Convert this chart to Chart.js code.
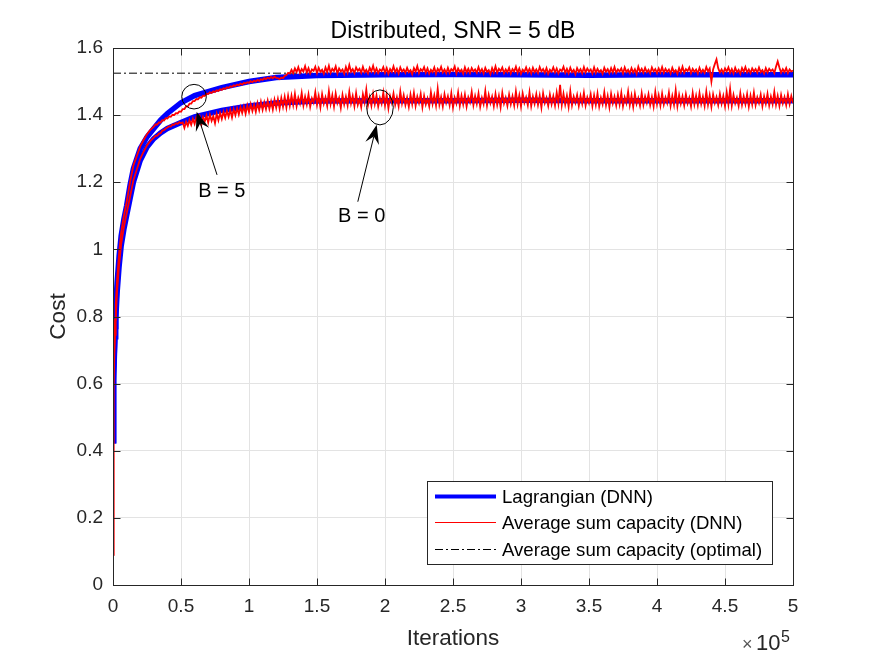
<!DOCTYPE html>
<html>
<head>
<meta charset="utf-8">
<script src="https://cdn.jsdelivr.net/npm/chart.js@4.4.1/dist/chart.umd.min.js"></script>
<style>
  html, body { margin: 0; padding: 0; background: #fff; }
</style>
</head>
<body>
<canvas id="myChart" width="875" height="657"></canvas>
<script>
// axis ticks (iterations in units of 1e5)
const xTicks = [0, 0.5, 1, 1.5, 2, 2.5, 3, 3.5, 4, 4.5, 5];
const yTicks = [0, 0.2, 0.4, 0.6, 0.8, 1, 1.2, 1.4, 1.6];

// Lagrangian (DNN), smooth band
const lagX = [0, 0.003, 0.006, 0.01, 0.015, 0.02, 0.03, 0.045, 0.06, 0.08, 0.1, 0.125, 0.15, 0.2, 0.25, 0.3, 0.35, 0.4, 0.5, 0.6, 0.8, 1.0, 1.2, 1.5, 2, 2.5, 3, 3.5, 4, 4.5, 5];
const lagB5 = [0.43, 0.55, 0.63, 0.70, 0.77, 0.82, 0.90, 0.98, 1.04, 1.09, 1.13, 1.19, 1.24, 1.30, 1.335, 1.36, 1.385, 1.405, 1.437, 1.458, 1.482, 1.50, 1.512, 1.518, 1.52, 1.521, 1.52, 1.519, 1.52, 1.52, 1.52];
const lagB0 = [0.43, 0.54, 0.61, 0.68, 0.74, 0.79, 0.87, 0.95, 1.01, 1.06, 1.10, 1.15, 1.20, 1.265, 1.305, 1.33, 1.347, 1.36, 1.378, 1.395, 1.414, 1.427, 1.436, 1.442, 1.443, 1.443, 1.444, 1.443, 1.443, 1.443, 1.443];

// Average sum capacity (DNN), first 30000 iterations
const capEarlyX = [0, 0.002, 0.005, 0.01, 0.015, 0.02, 0.03, 0.045, 0.06, 0.08, 0.1, 0.125, 0.15, 0.175, 0.2, 0.225, 0.25, 0.275];
const capB5Early = [0.09, 0.40, 0.62, 0.72, 0.79, 0.835, 0.91, 0.99, 1.05, 1.10, 1.14, 1.20, 1.25, 1.278, 1.307, 1.326, 1.343, 1.356];
const capB0Early = [0.09, 0.38, 0.59, 0.69, 0.745, 0.795, 0.875, 0.955, 1.015, 1.066, 1.106, 1.156, 1.206, 1.238, 1.27, 1.291, 1.31, 1.323];

// Average sum capacity (DNN), from 30000 on, every 1250 iterations
const capB5Late = [
  1.366, 1.372, 1.372, 1.378, 1.378, 1.385, 1.384, 1.391, 1.390, 1.396,
  1.395, 1.401, 1.400, 1.406, 1.405, 1.411, 1.410, 1.418, 1.418, 1.426,
  1.426, 1.434, 1.434, 1.442, 1.442, 1.448, 1.447, 1.453, 1.452, 1.458,
  1.457, 1.464, 1.463, 1.468, 1.466, 1.471, 1.469, 1.474, 1.472, 1.477,
  1.475, 1.480, 1.478, 1.483, 1.481, 1.486, 1.484, 1.489, 1.487, 1.491,
  1.489, 1.494, 1.491, 1.496, 1.494, 1.498, 1.496, 1.501, 1.498, 1.503,
  1.500, 1.505, 1.502, 1.507, 1.505, 1.510, 1.507, 1.512, 1.509, 1.514,
  1.510, 1.515, 1.511, 1.510, 1.507, 1.512, 1.510, 1.517, 1.519, 1.526,
  1.524,
  1.535, 1.525, 1.539, 1.528, 1.543, 1.526, 1.537, 1.530, 1.546, 1.527,
  1.540, 1.524, 1.536, 1.532, 1.544, 1.525, 1.541, 1.529, 1.535, 1.523,
  1.542, 1.528, 1.547, 1.526, 1.538, 1.531, 1.545, 1.524, 1.539, 1.530,
  1.536, 1.523, 1.543, 1.527, 1.549, 1.529, 1.537, 1.525, 1.542, 1.532,
  1.538, 1.526, 1.544, 1.528, 1.535, 1.524, 1.541, 1.530, 1.547, 1.527,
  1.539, 1.525, 1.536, 1.531, 1.543, 1.526, 1.540, 1.523, 1.537, 1.529,
  1.545, 1.527, 1.538, 1.524, 1.542, 1.530, 1.536, 1.526, 1.541, 1.528,
  1.534, 1.522, 1.540, 1.529, 1.546, 1.525, 1.537, 1.531, 1.543, 1.526,
  1.539, 1.524, 1.535, 1.528, 1.542, 1.523, 1.538, 1.530, 1.544, 1.527,
  1.536, 1.525, 1.541, 1.526, 1.537, 1.532, 1.545, 1.524, 1.539, 1.529,
  1.535, 1.523, 1.542, 1.527, 1.538, 1.525, 1.540, 1.530, 1.536, 1.526,
  1.543, 1.528, 1.537, 1.524, 1.541, 1.529, 1.534, 1.522, 1.540, 1.527,
  1.545, 1.526, 1.538, 1.531, 1.542, 1.525, 1.536, 1.528, 1.541, 1.524,
  1.537, 1.530, 1.544, 1.526, 1.539, 1.523, 1.535, 1.529, 1.542, 1.527,
  1.538, 1.524, 1.541, 1.528, 1.536, 1.525, 1.543, 1.530, 1.537, 1.526,
  1.540, 1.523, 1.535, 1.529, 1.542, 1.527, 1.539, 1.524, 1.536, 1.531,
  1.544, 1.526, 1.538, 1.525, 1.541, 1.528, 1.535, 1.522, 1.540, 1.529,
  1.537, 1.525, 1.543, 1.527, 1.539, 1.530, 1.536, 1.524, 1.542, 1.526,
  1.538, 1.528, 1.534, 1.523, 1.541, 1.529, 1.537, 1.525, 1.540, 1.527,
  1.543, 1.526, 1.536, 1.530, 1.539, 1.524, 1.542, 1.528, 1.535, 1.525,
  1.540, 1.527, 1.537, 1.523, 1.544, 1.529, 1.538, 1.526, 1.541, 1.528,
  1.535, 1.524, 1.542, 1.530, 1.537, 1.525, 1.539, 1.527, 1.543, 1.526,
  1.538, 1.529, 1.536, 1.524, 1.541, 1.528, 1.534, 1.523, 1.540, 1.527,
  1.544, 1.526, 1.537, 1.531, 1.542, 1.525, 1.538, 1.529, 1.536, 1.524,
  1.541, 1.527, 1.535, 1.526, 1.543, 1.530, 1.539, 1.500, 1.536, 1.552,
  1.566, 1.540, 1.527, 1.536, 1.525, 1.539, 1.530, 1.542, 1.526, 1.537,
  1.524, 1.541, 1.528, 1.535, 1.523, 1.540, 1.529, 1.543, 1.527, 1.536,
  1.525, 1.539, 1.530, 1.537, 1.526, 1.542, 1.528, 1.534, 1.524, 1.540,
  1.527, 1.538, 1.531, 1.536, 1.525, 1.544, 1.560, 1.542, 1.526, 1.537,
  1.528, 1.540, 1.525, 1.536, 1.530, 1.533
];
const capB0Late = [
  1.333, 1.338, 1.339, 1.345, 1.346, 1.354, 1.355, 1.360, 1.363, 1.367,
  1.366, 1.372, 1.371, 1.376, 1.374, 1.379, 1.376, 1.378, 1.362, 1.380,
  1.368, 1.385, 1.371, 1.389, 1.374, 1.392, 1.378, 1.396, 1.372, 1.394,
  1.381, 1.399, 1.378, 1.401, 1.383, 1.397, 1.376, 1.404, 1.385, 1.407,
  1.389, 1.410, 1.392, 1.413, 1.395, 1.416, 1.393, 1.418, 1.400, 1.421,
  1.402, 1.424, 1.406, 1.426, 1.404, 1.429, 1.409, 1.433, 1.412, 1.431,
  1.410, 1.436, 1.415, 1.440, 1.416, 1.438, 1.418, 1.443, 1.419, 1.441,
  1.417, 1.446, 1.422, 1.448, 1.420, 1.451, 1.425, 1.454, 1.423, 1.457,
  1.428,
  1.458, 1.430, 1.463, 1.427, 1.452, 1.435, 1.466, 1.429, 1.455, 1.432,
  1.461, 1.425, 1.450, 1.437, 1.468, 1.431, 1.457, 1.424, 1.462, 1.434,
  1.453, 1.428, 1.471, 1.433, 1.459, 1.426, 1.464, 1.436, 1.451, 1.422,
  1.460, 1.432, 1.455, 1.429, 1.469, 1.435, 1.457, 1.427, 1.465, 1.431,
  1.449, 1.424, 1.462, 1.438, 1.476, 1.430, 1.454, 1.428, 1.463, 1.433,
  1.458, 1.426, 1.451, 1.434, 1.467, 1.429, 1.460, 1.421, 1.456, 1.437,
  1.464, 1.431, 1.453, 1.427, 1.470, 1.435, 1.459, 1.430, 1.452, 1.425,
  1.461, 1.433, 1.466, 1.428, 1.455, 1.436, 1.463, 1.424, 1.457, 1.432,
  1.450, 1.427, 1.468, 1.434, 1.459, 1.429, 1.478, 1.431, 1.454, 1.426,
  1.462, 1.437, 1.456, 1.430, 1.465, 1.423, 1.452, 1.435, 1.467, 1.428,
  1.458, 1.432, 1.461, 1.426, 1.453, 1.438, 1.469, 1.430, 1.457, 1.434,
  1.464, 1.425, 1.451, 1.433, 1.472, 1.429, 1.460, 1.436, 1.455, 1.427,
  1.463, 1.431, 1.457, 1.424, 1.466, 1.435, 1.452, 1.428, 1.461, 1.433,
  1.456, 1.429, 1.470, 1.432, 1.459, 1.426, 1.464, 1.437, 1.453, 1.430,
  1.468, 1.427, 1.455, 1.434, 1.462, 1.431, 1.458, 1.423, 1.465, 1.436,
  1.452, 1.428, 1.461, 1.433, 1.456, 1.429, 1.467, 1.435, 1.490, 1.431,
  1.463, 1.432, 1.458, 1.425, 1.471, 1.430, 1.455, 1.437, 1.460, 1.428,
  1.457, 1.434, 1.466, 1.429, 1.453, 1.436, 1.462, 1.427, 1.459, 1.431,
  1.464, 1.426, 1.452, 1.433, 1.468, 1.430, 1.457, 1.424, 1.463, 1.435,
  1.455, 1.429, 1.461, 1.432, 1.466, 1.427, 1.453, 1.436, 1.470, 1.430,
  1.458, 1.425, 1.463, 1.434, 1.451, 1.428, 1.465, 1.431, 1.456, 1.437,
  1.462, 1.430, 1.454, 1.426, 1.469, 1.433, 1.459, 1.429, 1.464, 1.432,
  1.453, 1.436, 1.467, 1.428, 1.457, 1.431, 1.474, 1.427, 1.460, 1.434,
  1.456, 1.429, 1.462, 1.435, 1.452, 1.426, 1.466, 1.432, 1.458, 1.430,
  1.465, 1.433, 1.455, 1.428, 1.470, 1.431, 1.459, 1.425, 1.461, 1.436,
  1.454, 1.430, 1.463, 1.434, 1.457, 1.427, 1.468, 1.432, 1.478, 1.429,
  1.460, 1.435, 1.452, 1.428, 1.465, 1.431, 1.456, 1.433, 1.462, 1.426,
  1.458, 1.432, 1.467, 1.430, 1.453, 1.436, 1.461, 1.427, 1.456, 1.434,
  1.463, 1.429, 1.455, 1.433, 1.469, 1.431, 1.457, 1.428, 1.460, 1.435,
  1.454, 1.430, 1.462, 1.433, 1.457, 1.436
];

// Average sum capacity (optimal)
const optX = [0, 5];
const optY = [1.525, 1.525];

// iteration grid for the late part (step of 1250 iterations)
const capLateX = [];
for (let i = 0; i < capB5Late.length; i++) capLateX.push(+(0.3 + 0.0125 * i).toFixed(4));

const pts = (xs, ys) => xs.map((x, i) => ({ x, y: ys[i] }));
const capX = capEarlyX.concat(capLateX);

const FONT = "'Liberation Sans', Arial, Helvetica, sans-serif";
const AX = '#262626';

// arrows and ellipses, in data units
const notes = [
  { label: 'B = 5', ring: [0.596, 1.455], rx: 12.3, ry: 12.3, tip: [0.615, 1.410], tail: [0.765, 1.222], text: [0.80, 1.172] },
  { label: 'B = 0', ring: [1.963, 1.423], rx: 13.3, ry: 17.5, tip: [1.939, 1.371], tail: [1.80, 1.142], text: [1.829, 1.097] }
];

const fmt = v => String(parseFloat(Number(v).toFixed(2)));

const matlabDeco = {
  id: 'matlabDeco',
  afterDraw(chart) {
    const { ctx, chartArea: a, scales } = chart;
    const sx = scales.x, sy = scales.y;
    ctx.save();

    // box + inward ticks
    ctx.strokeStyle = AX;
    ctx.lineWidth = 1;
    const L = Math.round(a.left) + 0.5, R = Math.round(a.right) + 0.5;
    const T = Math.round(a.top) + 0.5, B = Math.round(a.bottom) + 0.5;
    ctx.strokeRect(L, T, R - L, B - T);
    ctx.beginPath();
    xTicks.forEach(v => {
      const px = Math.round(sx.getPixelForValue(v)) + 0.5;
      ctx.moveTo(px, B); ctx.lineTo(px, B - 7);
      ctx.moveTo(px, T); ctx.lineTo(px, T + 7);
    });
    yTicks.forEach(v => {
      const py = Math.round(sy.getPixelForValue(v)) + 0.5;
      ctx.moveTo(L, py); ctx.lineTo(L + 7, py);
      ctx.moveTo(R, py); ctx.lineTo(R - 7, py);
    });
    ctx.stroke();

    // title and axis labels
    ctx.fillStyle = '#000';
    ctx.font = '23px ' + FONT;
    ctx.textAlign = 'center';
    ctx.textBaseline = 'alphabetic';
    ctx.fillText('Distributed, SNR = 5 dB', (a.left + a.right) / 2, 38);
    ctx.fillStyle = AX;
    ctx.font = '22.5px ' + FONT;
    ctx.fillText('Iterations', (a.left + a.right) / 2, 645);
    ctx.save();
    ctx.translate(65, (a.top + a.bottom) / 2);
    ctx.rotate(-Math.PI / 2);
    ctx.fillText('Cost', 0, 0);
    ctx.restore();

    // x10^5 multiplier
    ctx.textAlign = 'left';
    ctx.fillStyle = '#555';
    ctx.font = '18px ' + FONT;
    ctx.fillText('\u00d7', 742, 650);
    ctx.fillStyle = AX;
    ctx.font = '22px ' + FONT;
    ctx.fillText('10', 756, 650);
    ctx.font = '16px ' + FONT;
    ctx.fillText('5', 781, 642);

    // annotations
    ctx.strokeStyle = '#000';
    ctx.fillStyle = '#000';
    notes.forEach(n => {
      const cx = sx.getPixelForValue(n.ring[0]), cy = sy.getPixelForValue(n.ring[1]);
      ctx.lineWidth = 1;
      ctx.beginPath();
      ctx.ellipse(cx, cy, n.rx, n.ry, 0, 0, Math.PI * 2);
      ctx.stroke();
      const tx = sx.getPixelForValue(n.tip[0]), ty = sy.getPixelForValue(n.tip[1]);
      const bx = sx.getPixelForValue(n.tail[0]), by = sy.getPixelForValue(n.tail[1]);
      const ang = Math.atan2(ty - by, tx - bx);
      const ux = Math.cos(ang), uy = Math.sin(ang);
      const hl = 19, hw = 7, notch = 12;
      ctx.beginPath();
      ctx.moveTo(bx, by);
      ctx.lineTo(tx - ux * notch, ty - uy * notch);
      ctx.stroke();
      ctx.beginPath();
      ctx.moveTo(tx, ty);
      ctx.lineTo(tx - ux * hl - uy * hw, ty - uy * hl + ux * hw);
      ctx.lineTo(tx - ux * notch, ty - uy * notch);
      ctx.lineTo(tx - ux * hl + uy * hw, ty - uy * hl - ux * hw);
      ctx.closePath();
      ctx.fill();
      ctx.font = '20px ' + FONT;
      ctx.textAlign = 'center';
      ctx.textBaseline = 'middle';
      ctx.fillText(n.label, sx.getPixelForValue(n.text[0]), sy.getPixelForValue(n.text[1]));
    });

    // legend
    const lx = 427.5, ly = 481.5, lw = 345, lh = 83;
    ctx.fillStyle = '#fff';
    ctx.fillRect(lx, ly, lw, lh);
    ctx.strokeStyle = AX;
    ctx.lineWidth = 1;
    ctx.strokeRect(lx, ly, lw, lh);
    const items = [
      { text: 'Lagrangian (DNN)', color: '#0000ff', width: 4, dash: [], y: 496.5 },
      { text: 'Average sum capacity (DNN)', color: '#ff0000', width: 1, dash: [], y: 522.5 },
      { text: 'Average sum capacity (optimal)', color: '#000', width: 1, dash: [8, 3, 2, 3], y: 549.5 }
    ];
    ctx.font = '18.6px ' + FONT;
    ctx.textAlign = 'left';
    ctx.textBaseline = 'middle';
    items.forEach(it => {
      ctx.strokeStyle = it.color;
      ctx.lineWidth = it.width;
      ctx.setLineDash(it.dash);
      ctx.beginPath();
      ctx.moveTo(435, it.y);
      ctx.lineTo(496, it.y);
      ctx.stroke();
      ctx.setLineDash([]);
      ctx.fillStyle = '#000';
      ctx.fillText(it.text, 502, it.y + 1);
    });

    ctx.restore();
  }
};

// dataset 0 is painted last (on top)
new Chart(document.getElementById('myChart'), {
  type: 'line',
  data: {
    datasets: [
      { label: 'Average sum capacity (DNN) B=5', data: pts(capX, capB5Early.concat(capB5Late)), borderColor: '#ff0000', borderWidth: 1.8 },
      { label: 'Average sum capacity (DNN) B=0', data: pts(capX, capB0Early.concat(capB0Late)), borderColor: '#ff0000', borderWidth: 1.8 },
      { label: 'Lagrangian (DNN) B=5', data: pts(lagX, lagB5), borderColor: '#0000ff', borderWidth: 5.5 },
      { label: 'Lagrangian (DNN) B=0', data: pts(lagX, lagB0), borderColor: '#0000ff', borderWidth: 5.5 },
      { label: 'Average sum capacity (optimal)', data: pts(optX, optY), borderColor: '#000', borderWidth: 1, borderDash: [8, 3, 2, 3] }
    ]
  },
  options: {
    responsive: false,
    animation: false,
    devicePixelRatio: 1,
    elements: { point: { radius: 0 }, line: { tension: 0, fill: false } },
    layout: { padding: { top: 48, right: 82, left: 0, bottom: 0 } },
    plugins: { legend: { display: false }, tooltip: { enabled: false }, title: { display: false } },
    scales: {
      x: {
        type: 'linear', min: 0, max: 5,
        afterBuildTicks: s => { s.ticks = xTicks.map(v => ({ value: v })); },
        afterFit: s => { s.height = 72; },
        grid: { color: '#e3e3e3', drawTicks: false },
        border: { display: false },
        ticks: { font: { family: FONT, size: 19 }, color: AX, padding: 10, maxRotation: 0, autoSkip: false, callback: v => fmt(v) }
      },
      y: {
        type: 'linear', min: 0, max: 1.6,
        afterBuildTicks: s => { s.ticks = yTicks.map(v => ({ value: v })); },
        afterFit: s => { s.width = 113; },
        grid: { color: '#e3e3e3', drawTicks: false },
        border: { display: false },
        ticks: { font: { family: FONT, size: 19 }, color: AX, padding: 10, autoSkip: false, callback: v => fmt(v) }
      }
    }
  },
  plugins: [matlabDeco]
});
</script>
</body>
</html>
